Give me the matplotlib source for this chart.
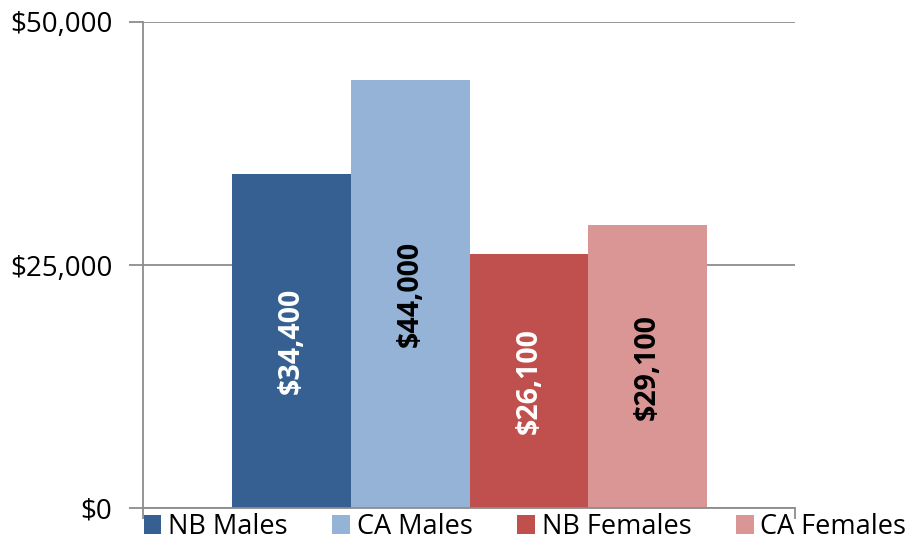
import matplotlib.pyplot as plt
from matplotlib.ticker import FuncFormatter

# data
groups = ['NB Males', 'CA Males', 'NB Females', 'CA Females']
incomes = [34400, 44000, 26100, 29100]
colors = ['#376092', '#95B3D7', '#C0504D', '#D99694']
label_colors = ['white', 'black', 'white', 'black']

plt.rcParams['font.family'] = ['Open Sans', 'DejaVu Sans']

fig = plt.figure(figsize=(9.09, 5.41), dpi=100)
ax = fig.add_axes([143 / 909, 1 - 508 / 541, (795 - 143) / 909, (508 - 22) / 541])

x = range(len(groups))
bars = ax.bar(x, incomes, width=1.0, color=colors, label=groups, zorder=2)

for b, val, lc in zip(bars, incomes, label_colors):
    ax.text(b.get_x() + b.get_width() / 2, val / 2, f'${val:,}', rotation=90,
            ha='center', va='center', color=lc, fontsize=20.5, fontweight='bold')

xmin, xmax = -1.25, 4.24
ax.set_ylim(0, 50000)
ax.set_xlim(xmin, xmax)
ax.set_yticks([0, 25000, 50000])
ax.yaxis.set_major_formatter(FuncFormatter(lambda v, p: f'${v:,.0f}'))
ax.yaxis.grid(True, color='#8c8c8c', linewidth=1.3, zorder=0)
ax.set_xticks([xmin, xmax])
ax.set_xticklabels(['', ''])
for s in ['top', 'right']:
    ax.spines[s].set_visible(False)
ax.spines['left'].set_color('#8c8c8c')
ax.spines['bottom'].set_color('#8c8c8c')
ax.spines['left'].set_linewidth(1.3)
ax.spines['bottom'].set_linewidth(1.3)
ax.tick_params(axis='y', length=10, width=1.3, color='#8c8c8c', labelsize=20, pad=12)
ax.tick_params(axis='x', length=8, width=1.3, color='#8c8c8c')

ax.legend(handles=bars, labels=groups, loc='upper center', bbox_to_anchor=(0.586, 0.012),
          ncol=4, frameon=False, fontsize=19.5, handlelength=0.65, handleheight=0.65,
          handletextpad=0.25, columnspacing=1.65, borderaxespad=0)

fig.savefig('out.png', dpi=100)
